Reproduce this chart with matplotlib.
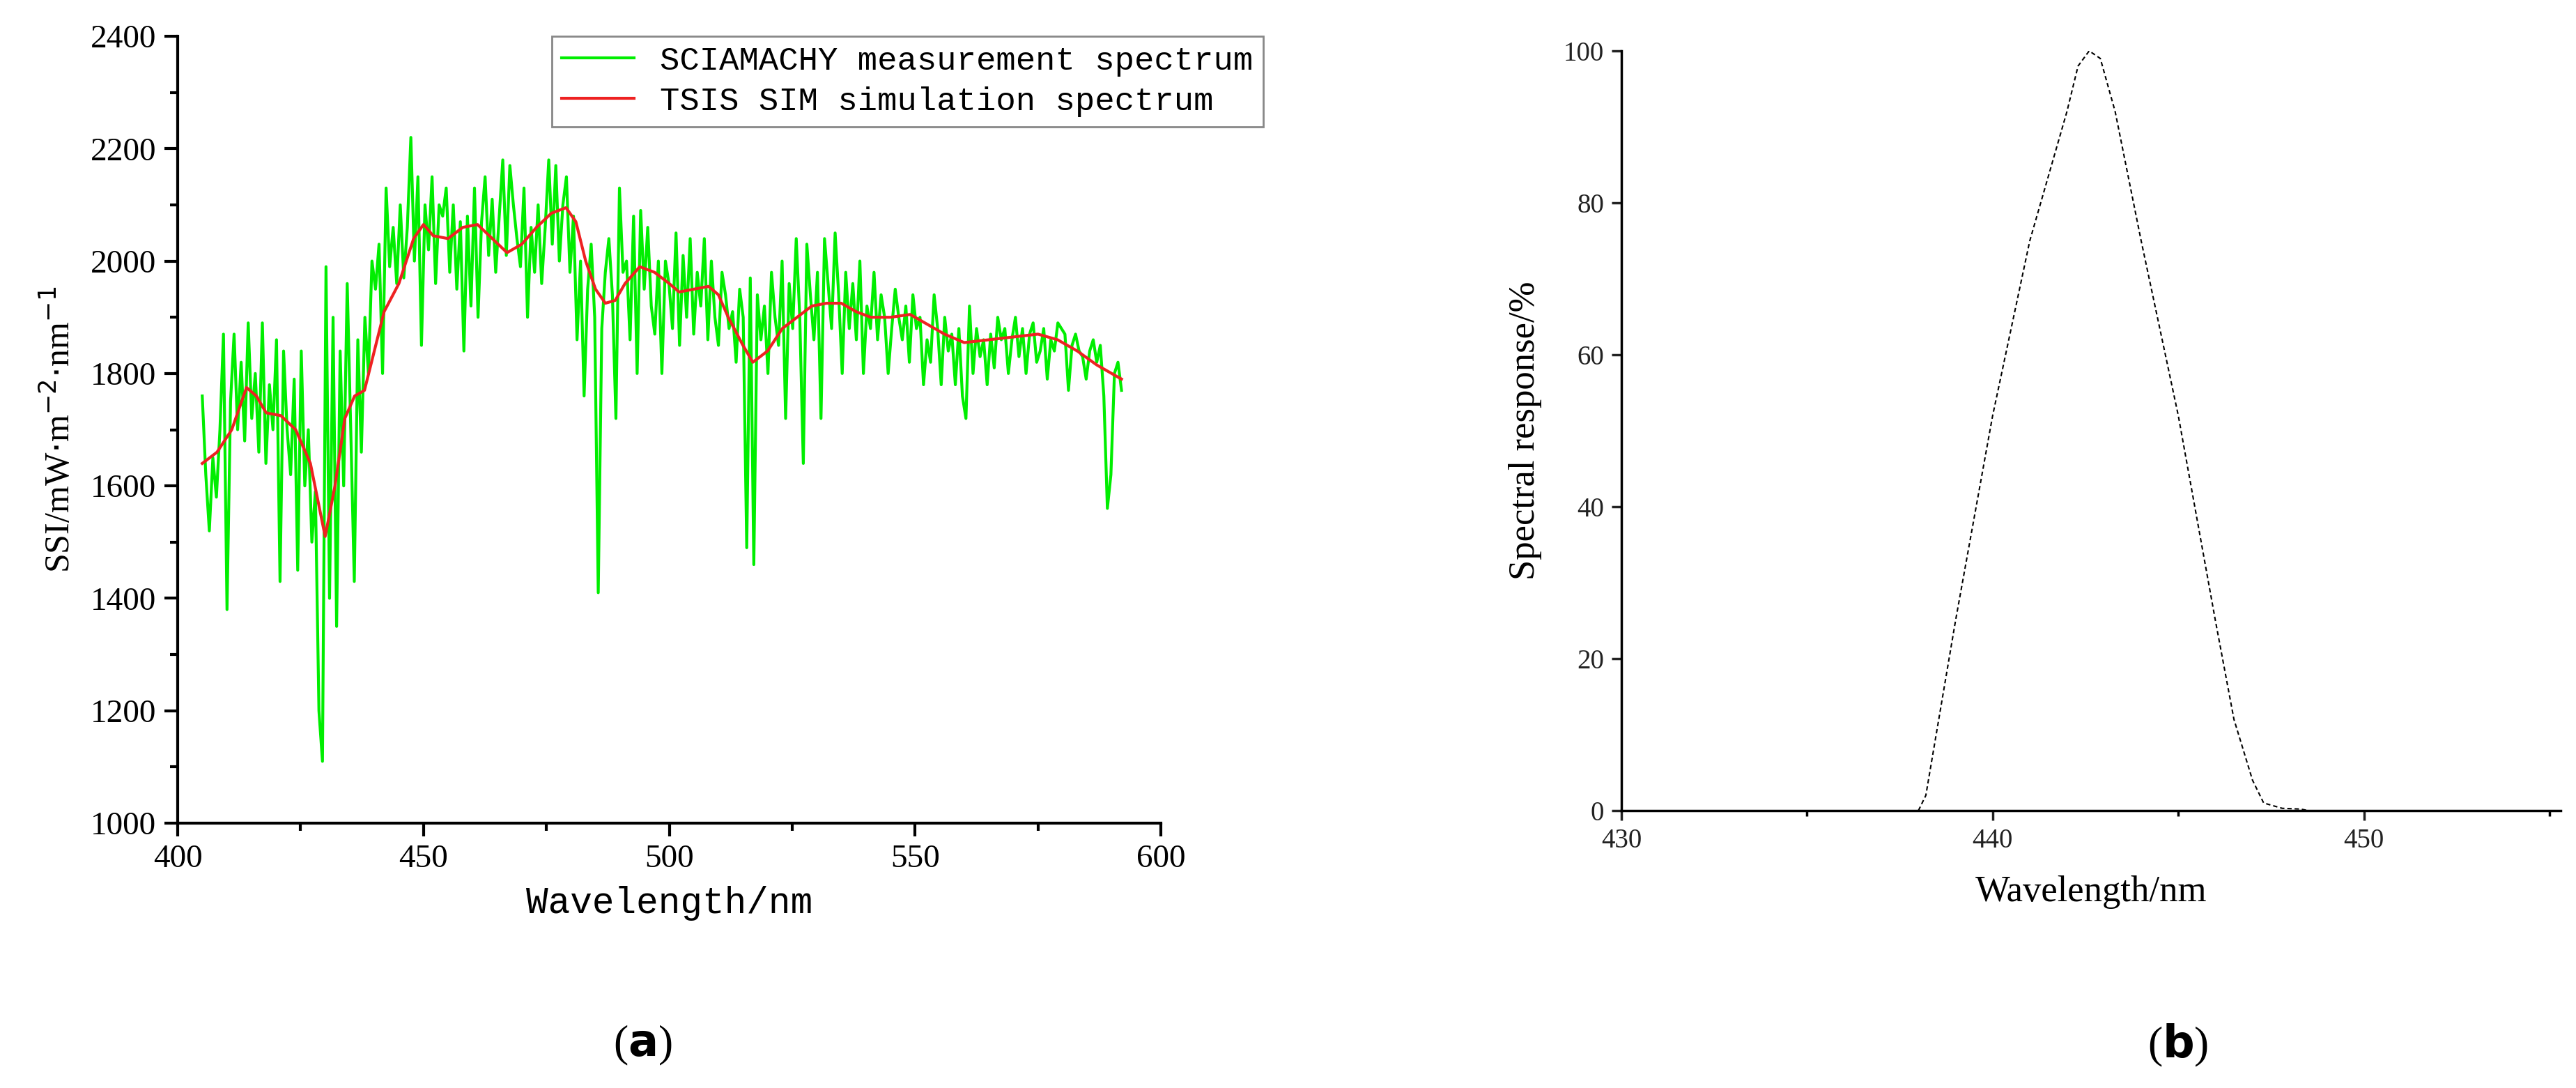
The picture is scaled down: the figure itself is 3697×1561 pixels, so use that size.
import matplotlib
matplotlib.use('Agg')
import matplotlib.pyplot as plt
import numpy as np

# SCIAMACHY measured spectrum, sampled evenly 405..592 nm
sci_vals = [
    1760, 1620, 1520, 1650, 1580, 1700, 1870,
    1380, 1750, 1870, 1700, 1820, 1680, 1890,
    1720, 1800, 1660, 1890, 1640, 1780, 1700,
    1860, 1430, 1840, 1700, 1620, 1790, 1450,
    1840, 1600, 1700, 1500, 1590, 1200, 1110,
    1990, 1400, 1900, 1350, 1840, 1600, 1960,
    1700, 1430, 1860, 1660, 1900, 1800, 2000,
    1950, 2030, 1800, 2130, 1990, 2060, 1960,
    2100, 1970, 2060, 2220, 2000, 2150, 1850,
    2100, 2020, 2150, 1960, 2100, 2080, 2130,
    1980, 2100, 1950, 2070, 1840, 2080, 1920,
    2130, 1900, 2070, 2150, 2010, 2110, 1980,
    2080, 2180, 2010, 2170, 2100, 2040, 1990,
    2130, 1900, 2060, 1980, 2100, 1960, 2060,
    2180, 2030, 2170, 2000, 2100, 2150, 1980,
    2080, 1860, 2000, 1760, 1950, 2030, 1900,
    1410, 1880, 1980, 2040, 1940, 1720, 2130,
    1980, 2000, 1860, 2080, 1800, 2090, 1950,
    2060, 1920, 1870, 2000, 1800, 2000, 1960,
    1880, 2050, 1850, 2010, 1900, 2040, 1870,
    1980, 1920, 2040, 1860, 2000, 1900, 1850,
    1980, 1940, 1880, 1910, 1820, 1950, 1900,
    1490, 1970, 1460, 1940, 1860, 1920, 1800,
    1980, 1900, 1850, 2000, 1720, 1960, 1880,
    2040, 1900, 1640, 2030, 1940, 1860, 1980,
    1720, 2040, 1960, 1880, 2050, 1940, 1800,
    1980, 1880, 1960, 1860, 2000, 1800, 1920,
    1880, 1980, 1860, 1940, 1900, 1800, 1880,
    1950, 1900, 1860, 1920, 1820, 1940, 1880,
    1900, 1780, 1860, 1820, 1940, 1880, 1780,
    1900, 1840, 1870, 1780, 1880, 1760, 1720,
    1920, 1800, 1880, 1830, 1860, 1780, 1870,
    1810, 1900, 1860, 1880, 1800, 1860, 1900,
    1830, 1880, 1800, 1870, 1890, 1820, 1840,
    1880, 1790, 1860, 1840, 1890, 1880, 1870,
    1770, 1850, 1870, 1840, 1830, 1790, 1840,
    1860, 1820, 1850, 1760, 1560, 1620, 1800,
    1820, 1770,
]
sci_wl = np.linspace(405, 592, len(sci_vals))

tsis_wl = [405, 408, 411, 414, 416, 418, 421, 424, 427, 430, 432, 434, 436, 438,
           440, 442, 445, 448, 450, 452, 455, 458, 461, 464, 467, 470, 473, 476,
           479, 481, 483, 485, 487, 489, 491, 494, 497, 500, 502, 505, 508, 510,
           512, 515, 517, 520, 523, 526, 529, 532, 535, 538, 541, 545, 549, 552,
           556, 560, 565, 570, 575, 579, 583, 587, 592]
tsis_vals = [1640, 1660, 1700, 1775, 1760, 1730, 1725, 1700, 1640, 1510, 1600, 1720,
             1760, 1770, 1840, 1910, 1960, 2040, 2065, 2045, 2040, 2060, 2065, 2040,
             2015, 2030, 2060, 2085, 2095, 2070, 2000, 1950, 1925, 1930, 1960, 1990,
             1980, 1960, 1945, 1950, 1955, 1940, 1900, 1850, 1820, 1840, 1880, 1900,
             1920, 1925, 1925, 1910, 1900, 1900, 1905, 1890, 1870, 1855, 1860, 1865,
             1870, 1860, 1840, 1815, 1790]

resp_wl = [438, 438.2, 439, 440, 441, 442, 442.3, 442.6, 442.9, 443.3, 444, 445,
           446, 446.5, 447, 447.3, 447.8, 448.3, 448.5]
resp_vals = [0, 2, 25, 52, 75, 92, 98, 100, 99, 92, 75, 52, 25, 12, 4, 1, 0.3, 0.2, 0]

serif = 'Liberation Serif'
mono = 'Liberation Mono'

fig = plt.figure(figsize=(36.98, 15.61), dpi=100)

# panel (a)
ax1 = fig.add_axes([255/3698, 1 - 1181/1561, (1666-255)/3698, (1181-52)/1561])
ax1.plot(sci_wl, sci_vals, color='#00ee00', lw=3, label='SCIAMACHY measurement spectrum')
ax1.plot(tsis_wl, tsis_vals, color='#ee2222', lw=3, label='TSIS SIM simulation spectrum')
ax1.set_xlim(400, 600)
ax1.set_ylim(1000, 2400)
ax1.set_xticks(np.arange(400, 601, 50))
ax1.set_xticks(np.arange(425, 600, 50), minor=True)
ax1.set_yticks(np.arange(1000, 2401, 200))
ax1.set_yticks(np.arange(1100, 2400, 200), minor=True)
for s in ['top', 'right']:
    ax1.spines[s].set_visible(False)
for s in ['left', 'bottom']:
    ax1.spines[s].set_linewidth(3)
ax1.tick_params(which='major', length=14, width=3, labelsize=34, pad=8)
ax1.tick_params(which='minor', length=8, width=3)
for lab in ax1.get_xticklabels() + ax1.get_yticklabels():
    lab.set_fontfamily(serif)
ax1.set_xlabel('Wavelength/nm', fontsize=38, family=mono, labelpad=12)
ax1.set_ylabel(r'SSI/mW$\cdot$m$^{-2}$$\cdot$nm$^{-1}$', fontsize=36, family=serif, labelpad=14)
leg = ax1.legend(loc='upper left', bbox_to_anchor=(768/3698, 1 - 28/1561),
                 bbox_transform=fig.transFigure, prop={'family': mono, 'size': 34},
                 fancybox=False, framealpha=1, edgecolor='#888888', handlelength=2.2,
                 borderpad=0.3, labelspacing=0.3)
leg.get_frame().set_linewidth(2)

# panel (b)
ax2 = fig.add_axes([2327/3698, 1 - 1163/1561, (3675-2327)/3698, (1163-73)/1561])
ax2.plot(resp_wl, resp_vals, color='black', lw=1.5, ls=(0, (3, 2)))
ax2.set_xlim(430, 455.3)
ax2.set_ylim(0, 100)
ax2.set_xticks([430, 440, 450])
ax2.set_xticks([435, 445, 455], minor=True)
ax2.set_yticks(np.arange(0, 101, 20))
for s in ['top', 'right']:
    ax2.spines[s].set_visible(False)
for s in ['left', 'bottom']:
    ax2.spines[s].set_linewidth(2.5)
ax2.tick_params(which='major', length=10, width=2.5, labelsize=28, pad=8, colors='#222222')
ax2.tick_params(which='minor', length=6, width=2.5)
for lab in ax2.get_xticklabels() + ax2.get_yticklabels():
    lab.set_fontfamily(serif)
ax2.set_xlabel('Wavelength/nm', fontsize=38, family=serif, labelpad=22)
ax2.set_ylabel('Spectral response/%', fontsize=38, family=serif, labelpad=22)

fig.text(922/3698, 1 - 1500/1561, '(a)', fontsize=46, family=serif, ha='center', va='center')
fig.text(3126/3698, 1 - 1500/1561, '(b)', fontsize=46, family=serif, ha='center', va='center')
fig.texts[0].set_text(r'($\mathbf{a}$)')
fig.texts[1].set_text(r'($\mathbf{b}$)')

fig.savefig('out.png', dpi=100)
